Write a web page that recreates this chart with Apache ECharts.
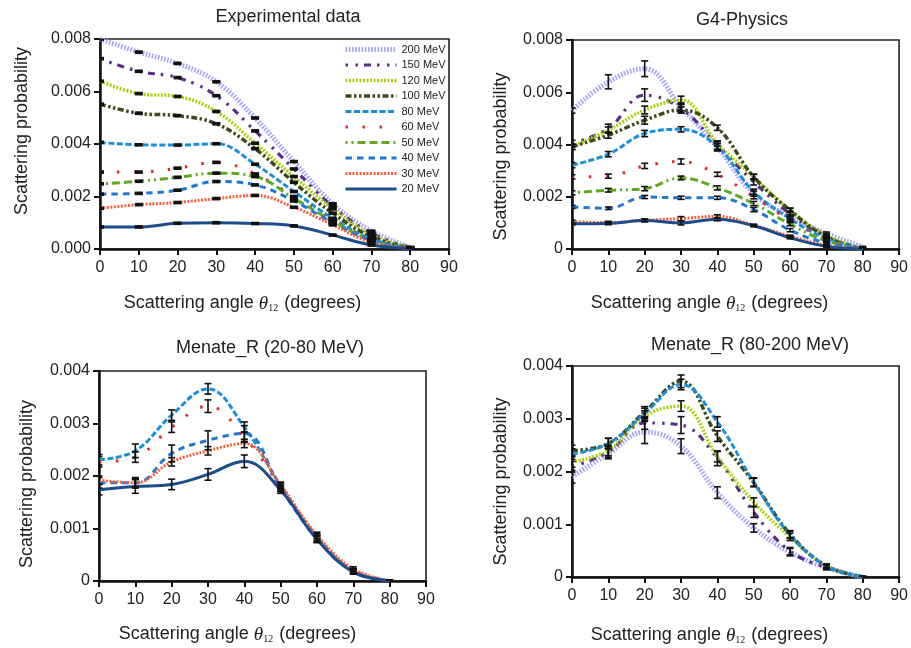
<!DOCTYPE html>
<html>
<head>
<meta charset="utf-8">
<script src="https://cdn.jsdelivr.net/npm/echarts@6/dist/echarts.min.js"></script>
<style>
html,body{margin:0;padding:0;background:#fff}
#main{width:911px;height:648px}
</style>
</head>
<body>
<div id="main"></div>
<script>
// angles (degrees) and beam energies
const angles = [0, 10, 20, 30, 40, 50, 60, 70, 80];
const energies = ['200 MeV', '150 MeV', '120 MeV', '100 MeV', '80 MeV', '60 MeV', '50 MeV', '40 MeV', '30 MeV', '20 MeV'];

// Experimental data (rows follow energies)
const expValues = [
	[0.0080, 0.0075, 0.00707, 0.00637, 0.00499, 0.00333, 0.00172, 0.00068, 0.00006],
	[0.00725, 0.00677, 0.00653, 0.00584, 0.0045, 0.00305, 0.00162, 0.0006, 0.00005],
	[0.00639, 0.00592, 0.00581, 0.00524, 0.00403, 0.00276, 0.00153, 0.00053, 0.00004],
	[0.00552, 0.00517, 0.00508, 0.00477, 0.00382, 0.00254, 0.00136, 0.00047, 0.00003],
	[0.00406, 0.00397, 0.00396, 0.00401, 0.00323, 0.00219, 0.00117, 0.00038, 0.00002],
	[0.00293, 0.00293, 0.00308, 0.0033, 0.00286, 0.002, 0.0011, 0.00037, 0.00002],
	[0.00248, 0.00258, 0.00273, 0.00289, 0.00276, 0.00193, 0.00107, 0.00034, 0.00002],
	[0.00209, 0.00212, 0.00224, 0.00257, 0.00244, 0.00183, 0.001, 0.00032, 0.00002],
	[0.00155, 0.00169, 0.00177, 0.00192, 0.00204, 0.00159, 0.00092, 0.00025, 0.00001],
	[0.00084, 0.00084, 0.00098, 0.001, 0.00097, 0.00088, 0.00053, 0.00015, 0.00002]
];
const expErr = 0.00002;

// G4-Physics
const g4Values = [
	[0.0053, 0.0064, 0.0069, 0.00544, 0.0039, 0.00212, 0.00123, 0.00059, 0.00008],
	[0.00404, 0.00461, 0.00589, 0.00538, 0.00397, 0.00257, 0.00135, 0.00046, 0.00002],
	[0.00391, 0.00455, 0.00532, 0.0057, 0.00404, 0.00276, 0.00148, 0.00052, 0.00002],
	[0.00391, 0.00436, 0.00493, 0.00532, 0.00464, 0.00276, 0.00148, 0.00046, 0.00001],
	[0.00321, 0.00363, 0.00442, 0.00458, 0.00391, 0.00219, 0.00116, 0.0004, 0.00001],
	[0.00276, 0.00279, 0.00318, 0.00335, 0.00286, 0.002, 0.0011, 0.0004, 0],
	[0.00215, 0.00225, 0.00231, 0.00272, 0.00234, 0.00174, 0.00095, 0.00031, 0],
	[0.00161, 0.00156, 0.00199, 0.00196, 0.00196, 0.00151, 0.00072, 0.00023, 0],
	[0.00105, 0.00101, 0.0011, 0.00116, 0.00125, 0.00091, 0.00049, 0.00014, 0],
	[0.00097, 0.00098, 0.00109, 0.001, 0.00114, 0.00089, 0.00043, 0.0001, 0]
];
const g4Err = [
	[0.0001, 0.00027, 0.0003, 0.00015, 0.00015, 0.0001, 0.00008, 0.00006, 0.00002],
	[0.00012, 0.00017, 0.00024, 0.00015, 0.00015, 0.00012, 0.0001, 0.00008, 0.00002],
	[0.0001, 0.00012, 0.00015, 0.00015, 0.0001, 0.0001, 0.00008, 0.00006, 0.00002],
	[0.0001, 0.00012, 0.00015, 0.00012, 0.0001, 0.0001, 0.00008, 0.00006, 0.00002],
	[0.0001, 0.0001, 0.00012, 0.0001, 0.00012, 0.0001, 0.00008, 0.00005, 0.00002],
	[0.00008, 0.00008, 0.0001, 0.0001, 0.00008, 0.00008, 0.00006, 0.00005, 0.00002],
	[0.00008, 0.00007, 0.00008, 0.00007, 0.00008, 0.00008, 0.00006, 0.00004, 0.00002],
	[0.00006, 0.00005, 0.00006, 0.00006, 0.00006, 0.00008, 0.00006, 0.00004, 0.00002],
	[0.00005, 0.00005, 0.00005, 0.00008, 0.00006, 0.00004, 0.00004, 0.00003, 0.00001],
	[0.00005, 0.00005, 0.00005, 0.00008, 0.00006, 0.00004, 0.00004, 0.00003, 0.00001]
];

// Menate_R (20-80 MeV)
const lowNames = ['80 MeV', '60 MeV', '40 MeV', '30 MeV', '20 MeV'];
const lowValues = [
	[0.00231, 0.00248, 0.00316, 0.00366, 0.00293, 0.00182, 0.00084, 0.00019, 0.00001],
	[0.00227, 0.00236, 0.00293, 0.00333, 0.00274, 0.00179, 0.00081, 0.0002, 0],
	[0.00187, 0.00187, 0.00243, 0.00268, 0.00281, 0.00176, 0.00081, 0.00019, 0],
	[0.00192, 0.00187, 0.00227, 0.00248, 0.00262, 0.00182, 0.00087, 0.00023, 0],
	[0.00174, 0.0018, 0.00184, 0.00203, 0.00228, 0.00173, 0.00079, 0.00017, 0]
];
const lowErr = [
	[0.0001, 0.00013, 0.0001, 0.0001, 0.0001, 0.00006, 0.00006, 0.00004, 0.00001],
	[0.0001, 0.0001, 0.0001, 0.00012, 0.0001, 0.00006, 0.00006, 0.00004, 0.00001],
	[0.0001, 0.0001, 0.00016, 0.00018, 0.00015, 0.00006, 0.00006, 0.00004, 0.00001],
	[0.00008, 0.00008, 0.00008, 0.00008, 0.00008, 0.00006, 0.00006, 0.00004, 0.00001],
	[0.0001, 0.00013, 0.0001, 0.00011, 0.00012, 0.00006, 0.00006, 0.00004, 0.00001]
];

// Menate_R (80-200 MeV)
const highNames = ['200 MeV', '150 MeV', '120 MeV', '100 MeV', '80 MeV'];
const highValues = [
	[0.0019, 0.00234, 0.00275, 0.00248, 0.0016, 0.00093, 0.00047, 0.00018, 0],
	[0.00209, 0.00237, 0.00292, 0.00288, 0.00225, 0.00123, 0.00049, 0.00018, 0],
	[0.00218, 0.0024, 0.00305, 0.00324, 0.00228, 0.00142, 0.00076, 0.00021, 0],
	[0.0024, 0.00253, 0.00313, 0.00371, 0.00267, 0.00179, 0.00081, 0.00021, 0],
	[0.00233, 0.00253, 0.0031, 0.00365, 0.00294, 0.0018, 0.0008, 0.00021, 0]
];
const highErr = [
	[0.00012, 0.0001, 0.00022, 0.00014, 0.00011, 0.00008, 0.00007, 0.00004, 0.00001],
	[0.0001, 0.0001, 0.00012, 0.00016, 0.00014, 0.0001, 0.00007, 0.00004, 0.00001],
	[0.0001, 0.0001, 0.0001, 0.0001, 0.0001, 0.00008, 0.00007, 0.00004, 0.00001],
	[0.0001, 0.0001, 0.0001, 0.00012, 0.0001, 0.00008, 0.00007, 0.00004, 0.00001],
	[0.0001, 0.0001, 0.0001, 0.0001, 0.0001, 0.00008, 0.00007, 0.00004, 0.00001]
];

const titles = ['Experimental data', 'G4-Physics', 'Menate_R (20-80 MeV)', 'Menate_R (80-200 MeV)'];

const FONT = "'Liberation Sans', Arial, sans-serif";
const TXT = '#222';

const lineStyles = {
	'200 MeV': {color: '#a3a3f7', width: 5, type: [1.6, 1.6]},
	'150 MeV': {color: '#5b2d8a', width: 3.2, type: [2.5, 7.5, 2.5, 6, 7, 6]},
	'120 MeV': {color: '#a8d10f', width: 3.5, type: [2, 1.5]},
	'100 MeV': {color: '#3c4a1c', width: 3.5, type: [6, 2.5, 2.5, 2.5, 2.5, 2.5]},
	'80 MeV': {color: '#1b8fdc', width: 3, type: [6, 2.5]},
	'60 MeV': {color: '#e02a2a', width: 3, type: [2.5, 14.5]},
	'50 MeV': {color: '#5fa920', width: 3, type: [2, 4, 2, 4, 8, 4, 8, 4, 8, 4]},
	'40 MeV': {color: '#2277d4', width: 3, type: [6.5, 5]},
	'30 MeV': {color: '#ff5c35', width: 3, type: [2, 1.5]},
	'20 MeV': {color: '#1d4c8c', width: 3, type: 'solid'}
};

// grid boxes, title centre, axis name tweaks
const boxes = [
	{left: 100, top: 39, width: 349, height: 210, tx: 288, ty: 17, xGap: 45, yGap: 69, yShift: 13, xShift: 32, yMax: 0.008, yStep: 0.002, zeroFixed: true},
	{left: 572, top: 40, width: 328, height: 209, tx: 742, ty: 20, xGap: 45, yGap: 62, yShift: -12, xShift: 26, yMax: 0.008, yStep: 0.002, zeroFixed: false},
	{left: 99, top: 371, width: 327, height: 210, tx: 270, ty: 348, xGap: 44, yGap: 63, yShift: -8, xShift: 25, yMax: 0.004, yStep: 0.001, zeroFixed: false},
	{left: 572, top: 366, width: 329, height: 211, tx: 750, ty: 345, xGap: 49, yGap: 62, yShift: -10, xShift: 26, yMax: 0.004, yStep: 0.001, zeroFixed: false}
];

function errorBars(params, api) {
	let x = api.value(0), y = api.value(1), e = api.value(2);
	let hi = api.coord([x, y + e]);
	let lo = api.coord([x, y - e]);
	let thick = params.seriesName.indexOf('exp') === 0;
	let style = {stroke: '#111', lineWidth: thick ? 2.6 : 1.6};
	let w = thick ? 4 : 3.5;
	return {
		type: 'group',
		children: [
			{type: 'line', shape: {x1: hi[0], y1: hi[1], x2: lo[0], y2: lo[1]}, style: style},
			{type: 'line', shape: {x1: hi[0] - w, y1: hi[1], x2: hi[0] + w, y2: hi[1]}, style: style},
			{type: 'line', shape: {x1: lo[0] - w, y1: lo[1], x2: lo[0] + w, y2: lo[1]}, style: style}
		]
	};
}

let grid = [], xAxis = [], yAxis = [], graphic = [], series = [];

boxes.forEach(function (b, i) {
	grid.push({left: b.left, top: b.top, width: b.width, height: b.height, show: true, borderColor: '#222', borderWidth: 1.6, containLabel: false});
	xAxis.push({
		type: 'value', gridIndex: i, min: 0, max: 90, interval: 10,
		name: 'Scattering angle {th|θ}{sub|12} (degrees)',
		nameLocation: 'middle', nameGap: b.xGap,
		nameTextStyle: {
			fontFamily: FONT, fontSize: 18, color: TXT, padding: [0, b.xShift * 2, 0, 0],
			rich: {
				th: {fontFamily: "'Liberation Serif', serif", fontStyle: 'italic', fontSize: 19, color: TXT},
				sub: {fontFamily: "'Liberation Serif', serif", fontSize: 10, color: TXT, verticalAlign: 'bottom', lineHeight: 10, padding: [0, 1, 0, 0]}
			}
		},
		axisLine: {show: true, lineStyle: {color: '#111', width: 2.5}},
		axisTick: {show: true, inside: false, length: 6, lineStyle: {color: '#111', width: 2}},
		axisLabel: {fontFamily: FONT, fontSize: 16, color: TXT, margin: 11},
		splitLine: {show: false}
	});
	yAxis.push({
		type: 'value', gridIndex: i, min: 0, max: b.yMax, interval: b.yStep,
		name: 'Scattering probability',
		nameLocation: 'middle', nameGap: b.yGap, nameRotate: 90,
		nameTextStyle: {
			fontFamily: FONT, fontSize: 18, color: TXT,
			padding: b.yShift > 0 ? [0, 0, 0, b.yShift * 2] : [0, -b.yShift * 2, 0, 0]
		},
		axisLine: {show: true, lineStyle: {color: '#111', width: 2.5}},
		axisTick: {show: true, inside: false, length: 6, lineStyle: {color: '#111', width: 2}},
		axisLabel: {
			fontFamily: FONT, fontSize: 16, color: TXT, margin: 9,
			formatter: function (v) {
				if (v === 0 && !b.zeroFixed) return '0';
				return v.toFixed(3);
			}
		},
		splitLine: {show: false}
	});
	graphic.push({
		type: 'text', x: b.tx, y: b.ty,
		style: {text: titles[i], font: '18px ' + FONT, fill: TXT, align: 'center', verticalAlign: 'middle'}
	});
});

function addPanel(idx, names, values, errs, tag) {
	names.forEach(function (name, k) {
		series.push({
			name: name, type: 'line', xAxisIndex: idx, yAxisIndex: idx,
			smooth: 0.4, symbol: 'none', showSymbol: false,
			lineStyle: lineStyles[name], itemStyle: {color: lineStyles[name].color},
			data: angles.map(function (a, j) { return [a, values[k][j]]; }),
			z: 2, silent: true
		});
	});
	names.forEach(function (name, k) {
		series.push({
			name: tag + name, type: 'custom', xAxisIndex: idx, yAxisIndex: idx,
			renderItem: errorBars, clip: true, z: 5, silent: true,
			data: angles.map(function (a, j) {
				let e = Array.isArray(errs) ? errs[k][j] : errs;
				return [a, values[k][j], e];
			})
		});
	});
}

addPanel(0, energies, expValues, expErr, 'exp');
addPanel(1, energies, g4Values, g4Err, 'g4');
addPanel(2, lowNames, lowValues, lowErr, 'low');
addPanel(3, highNames, highValues, highErr, 'high');

let option = {
	animation: false,
	backgroundColor: '#fff',
	textStyle: {fontFamily: FONT},
	grid: grid,
	xAxis: xAxis,
	yAxis: yAxis,
	graphic: graphic,
	legend: {
		data: energies,
		orient: 'vertical',
		left: 343, top: 44,
		padding: 0,
		itemWidth: 51, itemHeight: 12, itemGap: 4.5,
		selectedMode: false,
		itemStyle: {opacity: 0},
		lineStyle: {width: 'inherit', type: 'inherit'},
		textStyle: {fontFamily: FONT, fontSize: 11, color: TXT}
	},
	series: series
};

let chart = echarts.init(document.getElementById('main'));
chart.setOption(option);
</script>
</body>
</html>
